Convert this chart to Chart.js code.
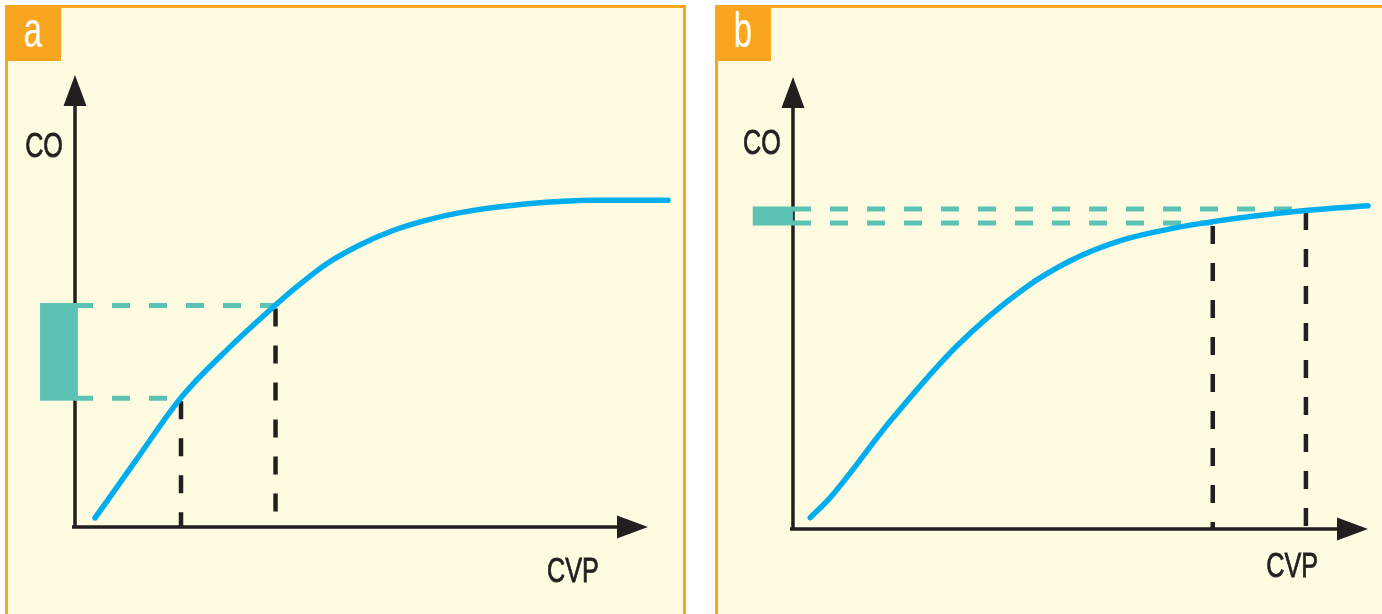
<!DOCTYPE html>
<html>
<head>
<meta charset="utf-8">
<title>CO vs CVP</title>
<script src="https://cdn.jsdelivr.net/npm/chart.js@4.4.1/dist/chart.umd.min.js"></script>
<style>
  body { margin: 0; width: 1382px; height: 614px; overflow: hidden; position: relative; background: #fff; font-family: "Liberation Sans", Arial, sans-serif; }
  .panel { position: absolute; top: 5px; height: 620px; box-sizing: border-box; border: 3.5px solid #f8a51f; background: #fffbe1; }
  #panelA { left: 5px; width: 681px; }
  #panelB { left: 715px; width: 700px; }
  .tag { position: absolute; top: 5px; width: 56px; height: 56px; background: #f8a51f; color: #fff; font-size: 50px; line-height: 50px; text-align: center; }
  .tag span { display: inline-block; transform: scaleX(0.66); }
  #tagA { left: 5px; }
  #tagB { left: 715px; }
  canvas { position: absolute; top: 0; }
  #chartA { left: 0; }
  #chartB { left: 700px; }
</style>
</head>
<body>
<div class="panel" id="panelA"></div>
<div class="panel" id="panelB"></div>
<div class="tag" id="tagA"><span>a</span></div>
<div class="tag" id="tagB"><span>b</span></div>
<canvas id="chartA" width="700" height="614"></canvas>
<canvas id="chartB" width="682" height="614"></canvas>
<script>
// axis units: 0 at the origin, 100 at the arrow tip
const axisLabels = ["CO", "CVP"];

// panel a - steep part of the curve
const curveA_cvp = [3.5, 10.5, 18.5, 26.7, 35, 38, 44, 49.7, 55.5, 61.4, 67, 79, 90.5, 103.5];
const curveA_co  = [2, 14.5, 28.6, 39.4, 49.1, 52.4, 58.3, 62.4, 65.6, 67.9, 69.5, 71.5, 72.3, 72.3];
const markA_cvp = [18.5, 35];
const markA_co  = [28.5, 49];
const bandA_cvp = [-6.1, 0.5];

// panel b - flat part of the curve
const curveB_cvp = [3, 6.5, 17, 28.5, 40, 48.5, 57.5, 66, 73, 89.5, 100];
const curveB_co  = [2.5, 7, 24, 40.5, 53, 59.5, 64, 66.5, 68, 70.5, 71.5];
const markB_cvp = [73, 89.2];
const markB_co  = [67.7, 70.8];
const bandB_cvp = [-7, 0];

const ink = "#231f20";
const teal = "#5cc2b4";
const cyan = "#00adef";

// axes with arrowheads, shaded CO band and the axis names
const decor = {
  id: "decor",
  beforeDatasetsDraw(chart, args, opts) {
    const { ctx, scales: { x, y } } = chart;
    const x0 = x.getPixelForValue(0), y0 = y.getPixelForValue(0);
    const xTip = x.getPixelForValue(100), yTip = y.getPixelForValue(100);
    ctx.save();
    ctx.strokeStyle = ink;
    ctx.fillStyle = ink;
    ctx.lineWidth = 3.5;
    ctx.beginPath();
    ctx.moveTo(x0, y0 + 1.7);
    ctx.lineTo(x0, yTip + 20);
    ctx.moveTo(x0 - 3, y0);
    ctx.lineTo(xTip - 20, y0);
    ctx.stroke();

    ctx.beginPath();
    ctx.moveTo(x0, yTip);
    ctx.lineTo(x0 - 11.5, yTip + 31);
    ctx.lineTo(x0 + 11.5, yTip + 31);
    ctx.closePath();
    ctx.fill();
    ctx.beginPath();
    ctx.moveTo(xTip, y0);
    ctx.lineTo(xTip - 31, y0 - 11.5);
    ctx.lineTo(xTip - 31, y0 + 11.5);
    ctx.closePath();
    ctx.fill();

    const top = y.getPixelForValue(Math.max(...opts.markCo)) - 2.5;
    const bot = y.getPixelForValue(Math.min(...opts.markCo)) + 2.5;
    const left = x.getPixelForValue(opts.band[0]);
    const right = x.getPixelForValue(opts.band[1]);
    ctx.fillStyle = teal;
    ctx.fillRect(left, top, right - left, bot - top);

    ctx.fillStyle = ink;
    ctx.strokeStyle = ink;
    ctx.lineWidth = 0.8;
    ctx.font = '35px "Liberation Sans", Arial, sans-serif';
    ctx.textAlign = "center";
    ctx.textBaseline = "alphabetic";
    opts.labels.forEach((l, i) => {
      ctx.save();
      ctx.translate(x.getPixelForValue(l[0]), y.getPixelForValue(l[1]));
      ctx.scale(0.72, 1);
      ctx.fillText(axisLabels[i], 0, 0);
      ctx.strokeText(axisLabels[i], 0, 0);
      ctx.restore();
    });
    ctx.restore();
  }
};

function pts(xs, ys) {
  return xs.map((v, i) => ({ x: v, y: ys[i] }));
}

function makePanel(id, curveX, curveY, markX, markY, band, frame, labels) {
  const datasets = [{
    data: pts(curveX, curveY),
    borderColor: cyan,
    borderWidth: 5.5,
    borderCapStyle: "round",
    cubicInterpolationMode: "monotone",
    showLine: true,
    pointRadius: 0
  }];
  markX.forEach((mx, i) => {
    datasets.push({
      data: [{ x: 0, y: markY[i] }, { x: mx, y: markY[i] }],
      borderColor: teal,
      borderWidth: 5,
      borderDash: [18, 19],
      showLine: true,
      pointRadius: 0
    });
    datasets.push({
      data: [{ x: mx, y: markY[i] }, { x: mx, y: 0 }],
      borderColor: ink,
      borderWidth: 4.5,
      borderDash: [18, 19],
      borderDashOffset: -3,
      showLine: true,
      pointRadius: 0
    });
  });

  new Chart(document.getElementById(id), {
    type: "scatter",
    data: { datasets: datasets },
    options: {
      responsive: false,
      animation: false,
      events: [],
      layout: { padding: 0 },
      scales: {
        x: { type: "linear", display: false, min: frame[0], max: frame[1] },
        y: { type: "linear", display: false, min: frame[2], max: frame[3] }
      },
      plugins: {
        legend: { display: false },
        tooltip: { enabled: false },
        decor: { markCo: markY, band: band, labels: labels }
      }
    },
    plugins: [decor]
  });
}

makePanel("chartA", curveA_cvp, curveA_co, markA_cvp, markA_co, bandA_cvp,
  [-13.09, 109.08, -19.25, 116.59], [[-5.4, 81.9], [86.9, -12.2]]);
makePanel("chartB", curveB_cvp, curveB_co, markB_cvp, markB_co, bandB_cvp,
  [-16.17, 102.43, -18.81, 117.04], [[-5.4, 83.0], [86.8, -10.6]]);
</script>
</body>
</html>
